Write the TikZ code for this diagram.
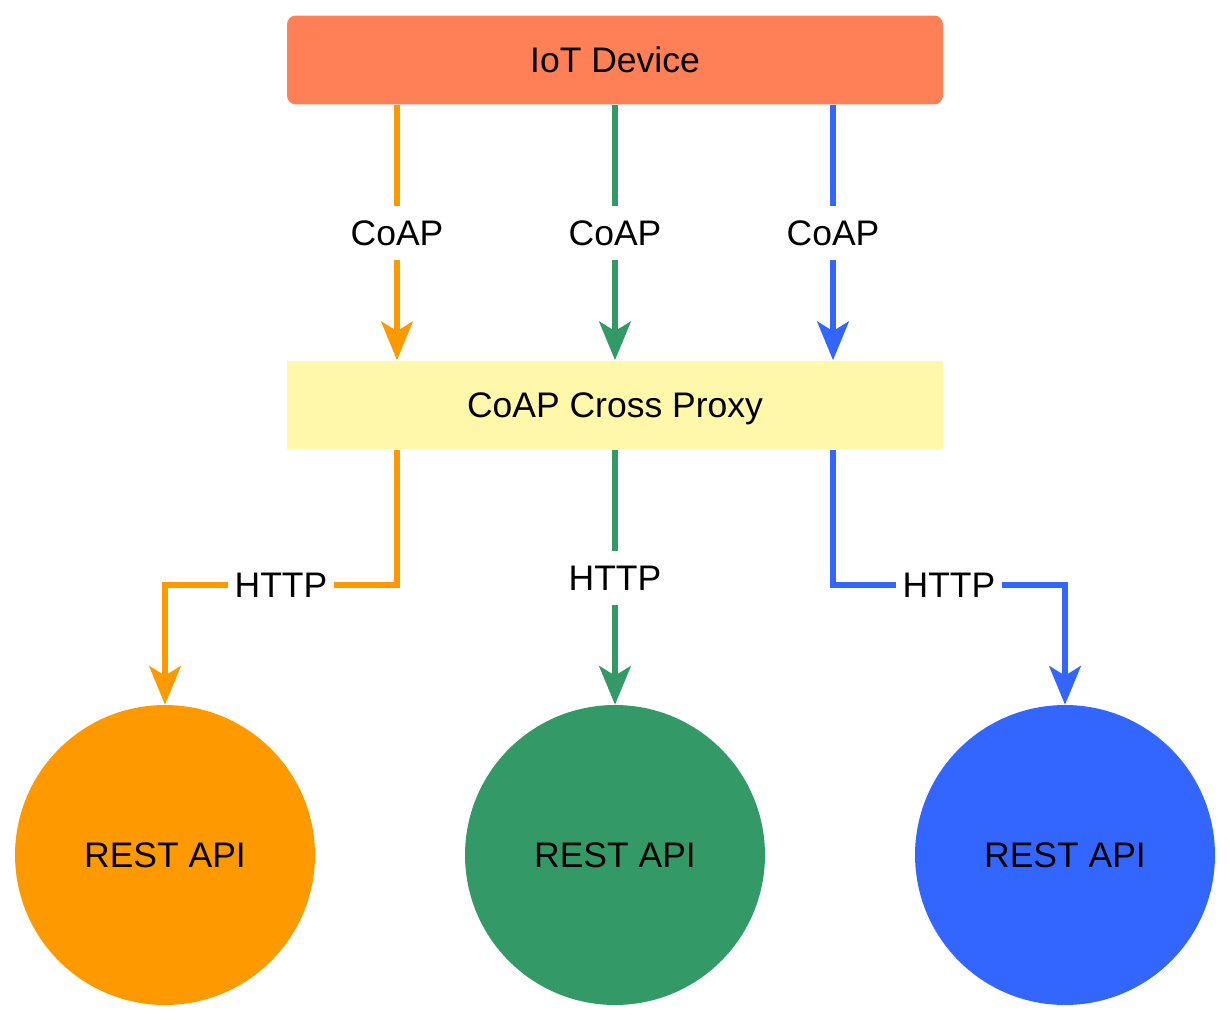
\documentclass[tikz,border=0pt]{standalone}
\usepackage{fontspec}
\setmainfont{Liberation Sans}
\usetikzlibrary{arrows.meta}
\definecolor{mycoral}{RGB}{255, 127, 87}
\definecolor{myyellow}{RGB}{255, 247, 170}
\definecolor{myorange}{RGB}{255, 153, 0}
\definecolor{mygreen}{RGB}{51, 153, 102}
\definecolor{myblue}{RGB}{51, 102, 255}
\tikzset{
    box/.style={minimum width=13.12cm, minimum height=1.78cm, inner sep=0pt, text height=14.5pt, text depth=0pt, font=\fontsize{20.2}{24}\selectfont},
    api/.style={circle, minimum size=6cm, inner sep=0pt, text height=14.5pt, text depth=0pt, font=\fontsize{20.2}{24}\selectfont},
    link/.style={line width=3pt, -{Stealth[length=22pt, width=18pt, inset=5.5pt]}},
    tag/.style={fill=white, inner xsep=4pt, inner ysep=8pt, text height=14.5pt, text depth=0pt, font=\fontsize{20.2}{24}\selectfont}
}

\begin{document}
\begin{tikzpicture}[x=0.02cm, y=-0.02cm]
        \useasboundingbox (0,0) rectangle (1230,1020);

        % Device and proxy
        \node[box, fill=mycoral, rounded corners=5pt] (device) at (615,60) {IoT Device};
        \node[box, fill=myyellow] (proxy) at (615,405) {CoAP Cross Proxy};

        % REST endpoints
        \node[api, fill=myorange] (apiA) at (165,855) {REST API};
        \node[api, fill=mygreen] (apiB) at (615,855) {REST API};
        \node[api, fill=myblue] (apiC) at (1065,855) {REST API};

        % CoAP links
        \draw[link, myorange] (device.south -| 397,0) -- (proxy.north -| 397,0);
        \draw[link, mygreen] (device.south) -- (proxy.north);
        \draw[link, myblue] (device.south -| 833,0) -- (proxy.north -| 833,0);
        \node[tag] (coapA) at (397,233) {CoAP};
        \node[tag] (coapB) at (615,233) {CoAP};
        \node[tag] (coapC) at (833,233) {CoAP};

        % HTTP links
        \draw[link, myorange] (proxy.south -| 397,0) |- (165,585) -- (apiA.north);
        \draw[link, mygreen] (proxy.south) -- (apiB.north);
        \draw[link, myblue] (proxy.south -| 833,0) |- (1065,585) -- (apiC.north);
        \node[tag] (httpA) at (281,585) {HTTP};
        \node[tag] (httpB) at (615,578) {HTTP};
        \node[tag] (httpC) at (949,585) {HTTP};
    \end{tikzpicture}
\end{document}
